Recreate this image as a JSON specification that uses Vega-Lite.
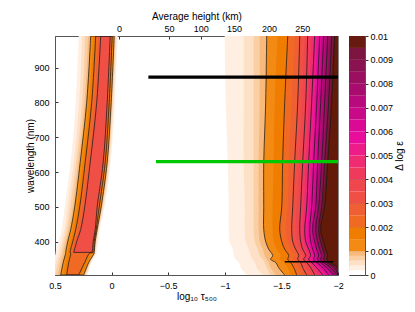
{
"$schema": "https://vega.github.io/schema/vega-lite/v6.json",
"padding": {"left": 25, "top": 10, "right": 10, "bottom": 5},
"bounds": "flush",
"spacing": 11,
"config": {
  "font": "Liberation Sans",
  "view": {"stroke": "#888"},
  "axis": {"labelFont": "Liberation Sans", "titleFont": "Liberation Sans", "labelFontSize": 9, "titleFontSize": 10, "titleFontWeight": "normal", "labelColor": "#000", "titleColor": "#000", "grid": false, "tickColor": "#333", "domainColor": "#555", "labelFlush": false}
},
"datasets": {
  "right": [
{"l":0.0002,"w":991,"x":-0.999},{"l":0.0002,"w":800,"x":-1.008},{"l":0.0002,"w":628,"x":-1.026},{"l":0.0002,"w":500,"x":-1.034},{"l":0.0002,"w":435,"x":-1.034},{"l":0.0002,"w":400,"x":-1.043},{"l":0.0002,"w":378,"x":-1.070},{"l":0.0002,"w":360,"x":-1.079},{"l":0.0002,"w":349,"x":-1.096},{"l":0.0002,"w":340,"x":-1.123},{"l":0.0002,"w":325,"x":-1.140},{"l":0.0002,"w":304,"x":-1.193},
{"l":0.0004,"w":991,"x":-1.167},{"l":0.0004,"w":800,"x":-1.167},{"l":0.0004,"w":628,"x":-1.167},{"l":0.0004,"w":500,"x":-1.176},{"l":0.0004,"w":435,"x":-1.176},{"l":0.0004,"w":400,"x":-1.185},{"l":0.0004,"w":378,"x":-1.211},{"l":0.0004,"w":360,"x":-1.229},{"l":0.0004,"w":349,"x":-1.246},{"l":0.0004,"w":340,"x":-1.264},{"l":0.0004,"w":325,"x":-1.282},{"l":0.0004,"w":304,"x":-1.335},
{"l":0.0006,"w":991,"x":-1.255},{"l":0.0006,"w":800,"x":-1.255},{"l":0.0006,"w":628,"x":-1.255},{"l":0.0006,"w":500,"x":-1.255},{"l":0.0006,"w":435,"x":-1.255},{"l":0.0006,"w":400,"x":-1.264},{"l":0.0006,"w":378,"x":-1.291},{"l":0.0006,"w":360,"x":-1.308},{"l":0.0006,"w":349,"x":-1.335},{"l":0.0006,"w":340,"x":-1.352},{"l":0.0006,"w":325,"x":-1.370},{"l":0.0006,"w":304,"x":-1.405},
{"l":0.0008,"w":991,"x":-1.308},{"l":0.0008,"w":800,"x":-1.308},{"l":0.0008,"w":628,"x":-1.299},{"l":0.0008,"w":500,"x":-1.299},{"l":0.0008,"w":435,"x":-1.299},{"l":0.0008,"w":400,"x":-1.308},{"l":0.0008,"w":378,"x":-1.335},{"l":0.0008,"w":360,"x":-1.352},{"l":0.0008,"w":349,"x":-1.370},{"l":0.0008,"w":340,"x":-1.388},{"l":0.0008,"w":325,"x":-1.405},{"l":0.0008,"w":304,"x":-1.450},
{"l":0.001,"w":991,"x":-1.370},{"l":0.001,"w":800,"x":-1.361},{"l":0.001,"w":628,"x":-1.344},{"l":0.001,"w":500,"x":-1.344},{"l":0.001,"w":435,"x":-1.344},{"l":0.001,"w":400,"x":-1.361},{"l":0.001,"w":378,"x":-1.388},{"l":0.001,"w":360,"x":-1.423},{"l":0.001,"w":349,"x":-1.405},{"l":0.001,"w":340,"x":-1.450},{"l":0.001,"w":325,"x":-1.476},{"l":0.001,"w":304,"x":-1.529},
{"l":0.0015,"w":991,"x":-1.467},{"l":0.0015,"w":800,"x":-1.441},{"l":0.0015,"w":628,"x":-1.432},{"l":0.0015,"w":500,"x":-1.423},{"l":0.0015,"w":435,"x":-1.423},{"l":0.0015,"w":400,"x":-1.432},{"l":0.0015,"w":378,"x":-1.458},{"l":0.0015,"w":360,"x":-1.494},{"l":0.0015,"w":349,"x":-1.485},{"l":0.0015,"w":340,"x":-1.520},{"l":0.0015,"w":325,"x":-1.556},{"l":0.0015,"w":304,"x":-1.582},
{"l":0.002,"w":991,"x":-1.556},{"l":0.002,"w":800,"x":-1.529},{"l":0.002,"w":628,"x":-1.511},{"l":0.002,"w":500,"x":-1.503},{"l":0.002,"w":435,"x":-1.485},{"l":0.002,"w":400,"x":-1.503},{"l":0.002,"w":378,"x":-1.529},{"l":0.002,"w":360,"x":-1.565},{"l":0.002,"w":349,"x":-1.556},{"l":0.002,"w":340,"x":-1.582},{"l":0.002,"w":325,"x":-1.609},{"l":0.002,"w":304,"x":-1.635},
{"l":0.0025,"w":991,"x":-1.617},{"l":0.0025,"w":800,"x":-1.591},{"l":0.0025,"w":628,"x":-1.565},{"l":0.0025,"w":500,"x":-1.556},{"l":0.0025,"w":435,"x":-1.538},{"l":0.0025,"w":400,"x":-1.556},{"l":0.0025,"w":378,"x":-1.582},{"l":0.0025,"w":360,"x":-1.617},{"l":0.0025,"w":349,"x":-1.600},{"l":0.0025,"w":340,"x":-1.626},{"l":0.0025,"w":325,"x":-1.653},{"l":0.0025,"w":304,"x":-1.679},
{"l":0.003,"w":991,"x":-1.662},{"l":0.003,"w":800,"x":-1.644},{"l":0.003,"w":628,"x":-1.617},{"l":0.003,"w":500,"x":-1.600},{"l":0.003,"w":435,"x":-1.591},{"l":0.003,"w":400,"x":-1.600},{"l":0.003,"w":378,"x":-1.626},{"l":0.003,"w":360,"x":-1.653},{"l":0.003,"w":349,"x":-1.644},{"l":0.003,"w":340,"x":-1.670},{"l":0.003,"w":325,"x":-1.688},{"l":0.003,"w":304,"x":-1.723},
{"l":0.0035,"w":991,"x":-1.706},{"l":0.0035,"w":800,"x":-1.679},{"l":0.0035,"w":628,"x":-1.653},{"l":0.0035,"w":500,"x":-1.635},{"l":0.0035,"w":435,"x":-1.626},{"l":0.0035,"w":400,"x":-1.635},{"l":0.0035,"w":378,"x":-1.662},{"l":0.0035,"w":360,"x":-1.688},{"l":0.0035,"w":349,"x":-1.679},{"l":0.0035,"w":340,"x":-1.697},{"l":0.0035,"w":325,"x":-1.723},{"l":0.0035,"w":304,"x":-1.759},
{"l":0.004,"w":991,"x":-1.732},{"l":0.004,"w":800,"x":-1.715},{"l":0.004,"w":628,"x":-1.688},{"l":0.004,"w":500,"x":-1.670},{"l":0.004,"w":435,"x":-1.662},{"l":0.004,"w":400,"x":-1.670},{"l":0.004,"w":378,"x":-1.688},{"l":0.004,"w":360,"x":-1.715},{"l":0.004,"w":349,"x":-1.697},{"l":0.004,"w":340,"x":-1.723},{"l":0.004,"w":325,"x":-1.759},{"l":0.004,"w":304,"x":-1.794},
{"l":0.0045,"w":991,"x":-1.767},{"l":0.0045,"w":800,"x":-1.741},{"l":0.0045,"w":628,"x":-1.715},{"l":0.0045,"w":500,"x":-1.697},{"l":0.0045,"w":435,"x":-1.688},{"l":0.0045,"w":400,"x":-1.697},{"l":0.0045,"w":378,"x":-1.715},{"l":0.0045,"w":360,"x":-1.741},{"l":0.0045,"w":349,"x":-1.723},{"l":0.0045,"w":340,"x":-1.750},{"l":0.0045,"w":325,"x":-1.785},{"l":0.0045,"w":304,"x":-1.829},
{"l":0.005,"w":991,"x":-1.794},{"l":0.005,"w":800,"x":-1.767},{"l":0.005,"w":628,"x":-1.741},{"l":0.005,"w":500,"x":-1.723},{"l":0.005,"w":435,"x":-1.706},{"l":0.005,"w":400,"x":-1.715},{"l":0.005,"w":378,"x":-1.741},{"l":0.005,"w":360,"x":-1.759},{"l":0.005,"w":349,"x":-1.741},{"l":0.005,"w":340,"x":-1.767},{"l":0.005,"w":325,"x":-1.812},{"l":0.005,"w":304,"x":-1.865},
{"l":0.0055,"w":991,"x":-1.812},{"l":0.0055,"w":800,"x":-1.794},{"l":0.0055,"w":628,"x":-1.767},{"l":0.0055,"w":500,"x":-1.741},{"l":0.0055,"w":435,"x":-1.732},{"l":0.0055,"w":400,"x":-1.732},{"l":0.0055,"w":378,"x":-1.759},{"l":0.0055,"w":360,"x":-1.776},{"l":0.0055,"w":349,"x":-1.767},{"l":0.0055,"w":340,"x":-1.794},{"l":0.0055,"w":325,"x":-1.838},{"l":0.0055,"w":304,"x":-1.891},
{"l":0.006,"w":991,"x":-1.838},{"l":0.006,"w":800,"x":-1.812},{"l":0.006,"w":628,"x":-1.785},{"l":0.006,"w":500,"x":-1.767},{"l":0.006,"w":435,"x":-1.750},{"l":0.006,"w":400,"x":-1.759},{"l":0.006,"w":378,"x":-1.776},{"l":0.006,"w":360,"x":-1.794},{"l":0.006,"w":349,"x":-1.785},{"l":0.006,"w":340,"x":-1.812},{"l":0.006,"w":325,"x":-1.865},{"l":0.006,"w":304,"x":-1.917},
{"l":0.0065,"w":991,"x":-1.856},{"l":0.0065,"w":800,"x":-1.829},{"l":0.0065,"w":628,"x":-1.812},{"l":0.0065,"w":500,"x":-1.785},{"l":0.0065,"w":435,"x":-1.767},{"l":0.0065,"w":400,"x":-1.776},{"l":0.0065,"w":378,"x":-1.794},{"l":0.0065,"w":360,"x":-1.812},{"l":0.0065,"w":349,"x":-1.803},{"l":0.0065,"w":340,"x":-1.829},{"l":0.0065,"w":325,"x":-1.882},{"l":0.0065,"w":304,"x":-1.944},
{"l":0.007,"w":991,"x":-1.873},{"l":0.007,"w":800,"x":-1.847},{"l":0.007,"w":628,"x":-1.820},{"l":0.007,"w":500,"x":-1.803},{"l":0.007,"w":435,"x":-1.776},{"l":0.007,"w":400,"x":-1.794},{"l":0.007,"w":378,"x":-1.812},{"l":0.007,"w":360,"x":-1.829},{"l":0.007,"w":349,"x":-1.820},{"l":0.007,"w":340,"x":-1.847},{"l":0.007,"w":325,"x":-1.900},{"l":0.007,"w":304,"x":-1.962},
{"l":0.0075,"w":991,"x":-1.891},{"l":0.0075,"w":800,"x":-1.865},{"l":0.0075,"w":628,"x":-1.838},{"l":0.0075,"w":500,"x":-1.812},{"l":0.0075,"w":435,"x":-1.794},{"l":0.0075,"w":400,"x":-1.803},{"l":0.0075,"w":378,"x":-1.829},{"l":0.0075,"w":360,"x":-1.847},{"l":0.0075,"w":349,"x":-1.838},{"l":0.0075,"w":340,"x":-1.865},{"l":0.0075,"w":325,"x":-1.917},{"l":0.0075,"w":304,"x":-1.979},
{"l":0.008,"w":991,"x":-1.909},{"l":0.008,"w":800,"x":-1.882},{"l":0.008,"w":628,"x":-1.856},{"l":0.008,"w":500,"x":-1.829},{"l":0.008,"w":435,"x":-1.803},{"l":0.008,"w":400,"x":-1.820},{"l":0.008,"w":378,"x":-1.838},{"l":0.008,"w":360,"x":-1.856},{"l":0.008,"w":349,"x":-1.847},{"l":0.008,"w":340,"x":-1.873},{"l":0.008,"w":325,"x":-1.935},{"l":0.008,"w":304,"x":-1.988},
{"l":0.0085,"w":991,"x":-1.926},{"l":0.0085,"w":800,"x":-1.900},{"l":0.0085,"w":628,"x":-1.873},{"l":0.0085,"w":500,"x":-1.838},{"l":0.0085,"w":435,"x":-1.820},{"l":0.0085,"w":400,"x":-1.829},{"l":0.0085,"w":378,"x":-1.856},{"l":0.0085,"w":360,"x":-1.873},{"l":0.0085,"w":349,"x":-1.865},{"l":0.0085,"w":340,"x":-1.891},{"l":0.0085,"w":325,"x":-1.953},{"l":0.0085,"w":304,"x":-2},
{"l":0.009,"w":991,"x":-1.944},{"l":0.009,"w":800,"x":-1.917},{"l":0.009,"w":628,"x":-1.882},{"l":0.009,"w":500,"x":-1.856},{"l":0.009,"w":435,"x":-1.829},{"l":0.009,"w":400,"x":-1.847},{"l":0.009,"w":378,"x":-1.865},{"l":0.009,"w":360,"x":-1.882},{"l":0.009,"w":349,"x":-1.873},{"l":0.009,"w":340,"x":-1.900},{"l":0.009,"w":325,"x":-1.970},{"l":0.009,"w":304,"x":-2},
{"l":0.0095,"w":991,"x":-1.962},{"l":0.0095,"w":800,"x":-1.935},{"l":0.0095,"w":628,"x":-1.900},{"l":0.0095,"w":500,"x":-1.865},{"l":0.0095,"w":435,"x":-1.838},{"l":0.0095,"w":400,"x":-1.856},{"l":0.0095,"w":378,"x":-1.873},{"l":0.0095,"w":360,"x":-1.900},{"l":0.0095,"w":349,"x":-1.891},{"l":0.0095,"w":340,"x":-1.917},{"l":0.0095,"w":325,"x":-1.988},{"l":0.0095,"w":304,"x":-2},
{"l":0.01,"w":991,"x":-1.970},{"l":0.01,"w":800,"x":-1.944},{"l":0.01,"w":628,"x":-1.909},{"l":0.01,"w":500,"x":-1.882},{"l":0.01,"w":435,"x":-1.847},{"l":0.01,"w":400,"x":-1.873},{"l":0.01,"w":378,"x":-1.891},{"l":0.01,"w":360,"x":-1.909},{"l":0.01,"w":349,"x":-1.900},{"l":0.01,"w":340,"x":-1.926},{"l":0.01,"w":325,"x":-1.997},{"l":0.01,"w":304,"x":-2}
  ],
  "left": [
{"l":0.0002,"w":991,"x":0.2906,"x2":-0.0539},{"l":0.0002,"w":800,"x":0.3171,"x2":-0.0274},{"l":0.0002,"w":628,"x":0.3613,"x2":0.0080},{"l":0.0002,"w":500,"x":0.4143,"x2":0.0610},{"l":0.0002,"w":435,"x":0.4408,"x2":0.1051},{"l":0.0002,"w":400,"x":0.4673,"x2":0.1184},{"l":0.0002,"w":369,"x":0.4938,"x2":0.1316},{"l":0.0002,"w":367,"x":0.4938,"x2":0.1316},{"l":0.0002,"w":340,"x":0.5203,"x2":0.1758},{"l":0.0002,"w":304,"x":0.5468,"x2":0.2111},
{"l":0.0004,"w":991,"x":0.2597,"x2":-0.0451},{"l":0.0004,"w":800,"x":0.2862,"x2":-0.0186},{"l":0.0004,"w":628,"x":0.3348,"x2":0.0168},{"l":0.0004,"w":500,"x":0.3878,"x2":0.0698},{"l":0.0004,"w":435,"x":0.4143,"x2":0.1113},{"l":0.0004,"w":400,"x":0.4408,"x2":0.1272},{"l":0.0004,"w":369,"x":0.4673,"x2":0.1405},{"l":0.0004,"w":367,"x":0.4673,"x2":0.1405},{"l":0.0004,"w":340,"x":0.4938,"x2":0.1846},{"l":0.0004,"w":304,"x":0.5203,"x2":0.2200},
{"l":0.0006,"w":991,"x":0.2332,"x2":-0.0362},{"l":0.0006,"w":800,"x":0.2597,"x2":-0.0097},{"l":0.0006,"w":628,"x":0.3127,"x2":0.0256},{"l":0.0006,"w":500,"x":0.3657,"x2":0.0786},{"l":0.0006,"w":435,"x":0.3966,"x2":0.1175},{"l":0.0006,"w":400,"x":0.4231,"x2":0.1360},{"l":0.0006,"w":369,"x":0.4452,"x2":0.1449},{"l":0.0006,"w":367,"x":0.4452,"x2":0.1449},{"l":0.0006,"w":340,"x":0.4717,"x2":0.1890},{"l":0.0006,"w":304,"x":0.4982,"x2":0.2288},
{"l":0.0008,"w":991,"x":0.2067,"x2":-0.0274},{"l":0.0008,"w":800,"x":0.2376,"x2":-0.0009},{"l":0.0008,"w":628,"x":0.2951,"x2":0.0345},{"l":0.0008,"w":500,"x":0.3436,"x2":0.0848},{"l":0.0008,"w":435,"x":0.3790,"x2":0.1228},{"l":0.0008,"w":400,"x":0.4055,"x2":0.1405},{"l":0.0008,"w":369,"x":0.4276,"x2":0.1493},{"l":0.0008,"w":367,"x":0.4276,"x2":0.1493},{"l":0.0008,"w":340,"x":0.4496,"x2":0.1935},{"l":0.0008,"w":304,"x":0.4761,"x2":0.2376},
{"l":0.001,"w":991,"x":0.1846,"x2":-0.0230},{"l":0.001,"w":800,"x":0.2200,"x2":0.0035},{"l":0.001,"w":628,"x":0.2774,"x2":0.0389},{"l":0.001,"w":500,"x":0.3260,"x2":0.0919},{"l":0.001,"w":435,"x":0.3613,"x2":0.1272},{"l":0.001,"w":400,"x":0.3878,"x2":0.1449},{"l":0.001,"w":369,"x":0.4055,"x2":0.1537},{"l":0.001,"w":367,"x":0.4055,"x2":0.1537},{"l":0.001,"w":340,"x":0.4276,"x2":0.2023},{"l":0.001,"w":304,"x":0.4496,"x2":0.2465},
{"l":0.0015,"w":991,"x":0.1625,"x2":-0.0141},{"l":0.0015,"w":800,"x":0.1979,"x2":0.0124},{"l":0.0015,"w":628,"x":0.2553,"x2":0.0477},{"l":0.0015,"w":500,"x":0.3039,"x2":0.1007},{"l":0.0015,"w":435,"x":0.3392,"x2":0.1316},{"l":0.0015,"w":400,"x":0.3657,"x2":0.1493},{"l":0.0015,"w":369,"x":0.3878,"x2":0.1581},{"l":0.0015,"w":367,"x":0.3878,"x2":0.1758},{"l":0.0015,"w":340,"x":0.4055,"x2":0.2155},{"l":0.0015,"w":304,"x":0.4231,"x2":0.2641},
{"l":0.002,"w":991,"x":0.1405,"x2":-0.0053},{"l":0.002,"w":800,"x":0.1758,"x2":0.0212},{"l":0.002,"w":628,"x":0.2332,"x2":0.0565},{"l":0.002,"w":500,"x":0.2818,"x2":0.1095},{"l":0.002,"w":435,"x":0.3171,"x2":0.1360},{"l":0.002,"w":400,"x":0.3436,"x2":0.1537},{"l":0.002,"w":369,"x":0.3657,"x2":0.1625},{"l":0.002,"w":367,"x":0.3613,"x2":0.1935},{"l":0.002,"w":340,"x":0.3790,"x2":0.2376},{"l":0.002,"w":304,"x":0.3966,"x2":0.2906},
{"l":0.0025,"w":991,"x":0.1184,"x2":0.0035},{"l":0.0025,"w":800,"x":0.1537,"x2":0.0300},{"l":0.0025,"w":628,"x":0.2111,"x2":0.0654},{"l":0.0025,"w":500,"x":0.2597,"x2":0.1184},{"l":0.0025,"w":435,"x":0.2951,"x2":0.1405},{"l":0.0025,"w":400,"x":0.3260,"x2":0.1581},{"l":0.0025,"w":369,"x":0.3481,"x2":0.1670},
{"l":0.003,"w":991,"x":0.0963,"x2":0.0124},{"l":0.003,"w":800,"x":0.1316,"x2":0.0389},{"l":0.003,"w":628,"x":0.1890,"x2":0.0742},{"l":0.003,"w":500,"x":0.2376,"x2":0.1272},{"l":0.003,"w":435,"x":0.2730,"x2":0.1449},{"l":0.003,"w":400,"x":0.3083,"x2":0.1625},{"l":0.003,"w":369,"x":0.3348,"x2":0.1714}
  ],
  "cbar": [
{"lo":0,"hi":0.0002,"l":0},{"lo":0.0002,"hi":0.0004,"l":0.0002},{"lo":0.0004,"hi":0.0006,"l":0.0004},{"lo":0.0006,"hi":0.0008,"l":0.0006},{"lo":0.0008,"hi":0.001,"l":0.0008},
{"lo":0.001,"hi":0.0015,"l":0.001},{"lo":0.0015,"hi":0.002,"l":0.0015},{"lo":0.002,"hi":0.0025,"l":0.002},{"lo":0.0025,"hi":0.003,"l":0.0025},{"lo":0.003,"hi":0.0035,"l":0.003},{"lo":0.0035,"hi":0.004,"l":0.0035},{"lo":0.004,"hi":0.0045,"l":0.004},{"lo":0.0045,"hi":0.005,"l":0.0045},{"lo":0.005,"hi":0.0055,"l":0.005},{"lo":0.0055,"hi":0.006,"l":0.0055},{"lo":0.006,"hi":0.0065,"l":0.006},{"lo":0.0065,"hi":0.007,"l":0.0065},{"lo":0.007,"hi":0.0075,"l":0.007},{"lo":0.0075,"hi":0.008,"l":0.0075},{"lo":0.008,"hi":0.0085,"l":0.008},{"lo":0.0085,"hi":0.009,"l":0.0085},{"lo":0.009,"hi":0.0095,"l":0.009},{"lo":0.0095,"hi":0.01,"l":0.0095}
  ],
  "lines": [
{"n":"black","w":873,"x":-0.325,"x2":-2},{"n":"green","w":630,"x":-0.392,"x2":-2}
  ],
  "streak": [{"w":342,"x":-1.53,"x2":-1.96}]
},
"hconcat": [
{
  "width": 283, "height": 239,
  "layer": [
    {
      "data": {"name": "right"},
      "mark": {"type": "area", "orient": "horizontal", "interpolate": "catmull-rom", "opacity": 1, "clip": true},
      "encoding": {
        "y": {"field": "w", "type": "quantitative", "scale": {"domain": [304, 991], "nice": false, "zero": false}, "axis": {"values": [400,500,600,700,800,900], "format": "d", "title": "wavelength (nm)", "tickSize": -3, "labelPadding": 9, "titlePadding": -2}},
        "x": {"field": "x", "type": "quantitative", "stack": null, "scale": {"domain": [-2, 0.5], "reverse": true, "nice": false, "zero": false}, "axis": {"orient": "bottom", "values": [0.5,0,-0.5,-1,-1.5,-2], "format": "~g", "title": "log₁₀ τ₅₀₀", "tickSize": -3, "labelPadding": 9, "titlePadding": 1}},
        "x2": {"datum": -2},
        "fill": {"field": "l", "type": "ordinal", "legend": null, "scale": {"domain": [0,0.0002,0.0004,0.0006,0.0008,0.001,0.0015,0.002,0.0025,0.003,0.0035,0.004,0.0045,0.005,0.0055,0.006,0.0065,0.007,0.0075,0.008,0.0085,0.009,0.0095,0.01], "range": ["#ffffff","#feefe2","#fde0c6","#fbcfa4","#f8b97c","#f28a14","#f07c00","#f06a24","#f05e34","#f04f46","#f0464e","#f03a5c","#ef2c72","#ee1c88","#e90d9c","#da0a94","#c90a88","#b80a7c","#a80c6e","#9a0f60","#8a1250","#7c1540","#681a10","#641a08"]}}
      }
    },
    {
      "data": {"name": "left"},
      "mark": {"type": "area", "orient": "horizontal", "interpolate": "catmull-rom", "opacity": 1, "clip": true},
      "encoding": {
        "y": {"field": "w", "type": "quantitative"},
        "x": {"field": "x", "type": "quantitative", "stack": null, "axis": null},
        "x2": {"field": "x2"},
        "fill": {"field": "l", "type": "ordinal", "legend": null}
      }
    },
    {
      "data": {"name": "right"},
      "transform": [{"filter": "abs(datum.l*1000 - round(datum.l*1000)) < 0.01"}],
      "mark": {"type": "line", "interpolate": "catmull-rom", "stroke": "#1a1a1a", "strokeWidth": 0.75, "clip": true},
      "encoding": {
        "y": {"field": "w", "type": "quantitative"},
        "x": {"field": "x", "type": "quantitative", "axis": null},
        "detail": {"field": "l"},
        "order": {"field": "w", "type": "quantitative"}
      }
    },
    {
      "data": {"name": "left"},
      "transform": [{"filter": "abs(datum.l*1000 - round(datum.l*1000)) < 0.01"}],
      "mark": {"type": "area", "orient": "horizontal", "interpolate": "catmull-rom", "filled": false, "stroke": "#1a1a1a", "strokeWidth": 0.75, "clip": true},
      "encoding": {
        "y": {"field": "w", "type": "quantitative"},
        "x": {"field": "x", "type": "quantitative", "stack": null, "axis": null},
        "x2": {"field": "x2"},
        "detail": {"field": "l"}
      }
    },
    {
      "data": {"name": "streak"},
      "mark": {"type": "rule", "stroke": "#000", "strokeWidth": 1.5},
      "encoding": {
        "y": {"field": "w", "type": "quantitative"},
        "x": {"field": "x", "type": "quantitative", "axis": null},
        "x2": {"field": "x2"}
      }
    },
    {
      "data": {"name": "lines"},
      "mark": {"type": "rule", "strokeWidth": 3.2},
      "encoding": {
        "y": {"field": "w", "type": "quantitative"},
        "x": {"field": "x", "type": "quantitative", "axis": {"orient": "top", "values": [-0.065,-0.507,-0.787,-1.081,-1.39,-1.685], "labelExpr": "datum.value > -0.3 ? '0' : datum.value > -0.65 ? '50' : datum.value > -0.95 ? '100' : datum.value > -1.25 ? '150' : datum.value > -1.55 ? '200' : '250'", "title": "Average height (km)", "tickSize": -3, "labelPadding": 6, "titlePadding": 3}},
        "x2": {"field": "x2"},
        "stroke": {"field": "n", "type": "nominal", "legend": null, "scale": {"domain": ["black","green"], "range": ["#000000","#00c800"]}}
      }
    }
  ],
  "resolve": {"axis": {"x": "independent"}}
},
{
  "width": 16, "height": 239,
  "data": {"name": "cbar"},
  "mark": {"type": "rect"},
  "encoding": {
    "y": {"field": "lo", "type": "quantitative", "scale": {"domain": [0, 0.01], "nice": false, "zero": false}, "axis": {"orient": "right", "values": [0,0.001,0.002,0.003,0.004,0.005,0.006,0.007,0.008,0.009,0.01], "format": "~g", "title": "Δ log ε", "titleAngle": 270, "titleBaseline": "top", "tickSize": 3, "labelPadding": 2, "titlePadding": 2, "grid": true, "gridColor": "#000", "gridOpacity": 0.5}},
    "y2": {"field": "hi"},
    "fill": {"field": "l", "type": "ordinal", "legend": null, "scale": {"domain": [0,0.0002,0.0004,0.0006,0.0008,0.001,0.0015,0.002,0.0025,0.003,0.0035,0.004,0.0045,0.005,0.0055,0.006,0.0065,0.007,0.0075,0.008,0.0085,0.009,0.0095,0.01], "range": ["#ffffff","#feefe2","#fde0c6","#fbcfa4","#f8b97c","#f28a14","#f07c00","#f06a24","#f05e34","#f04f46","#f0464e","#f03a5c","#ef2c72","#ee1c88","#e90d9c","#da0a94","#c90a88","#b80a7c","#a80c6e","#9a0f60","#8a1250","#7c1540","#681a10","#641a08"]}}
  }
}
]
}
